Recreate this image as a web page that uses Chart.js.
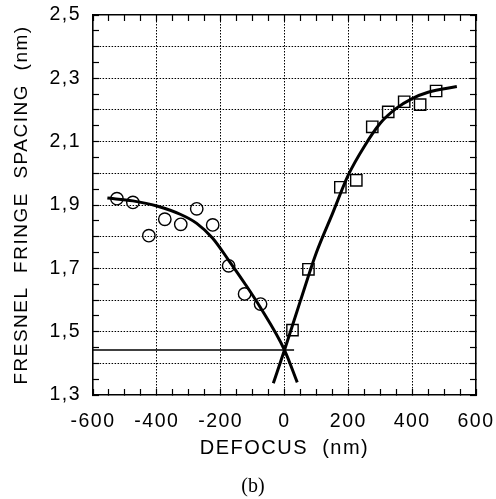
<!DOCTYPE html>
<html>
<head>
<meta charset="utf-8">
<script src="https://cdn.jsdelivr.net/npm/chart.js@4.4.1/dist/chart.umd.min.js"></script>
<style>html,body{margin:0;padding:0;background:#fff;overflow:hidden}</style>
</head>
<body>
<canvas id="c" width="496" height="499"></canvas>
<script>
// Measured points: circles (negative defocus) and squares (positive defocus)
const circleDefocus = [-525, -475, -425, -375, -325, -275, -225, -175, -125, -75];
const circleSpacing = [1.920, 1.908, 1.803, 1.855, 1.839, 1.888, 1.837, 1.708, 1.619, 1.587];
const squareDefocus = [25, 75, 175, 225, 275, 325, 375, 425, 475];
const squareSpacing = [1.505, 1.697, 1.956, 1.978, 2.147, 2.194, 2.226, 2.217, 2.260];

// Fitted curves
const leftFitDefocus = [-555, -475, -400, -325, -275, -225, -176, -125, -76, 0, 40];
const leftFitSpacing = [1.922, 1.913, 1.897, 1.870, 1.842, 1.795, 1.727, 1.653, 1.577, 1.442, 1.340];
const rightFitDefocus = [-35, 0, 50, 100, 150, 200, 250, 300, 350, 400, 450, 540];
const rightFitSpacing = [1.337, 1.442, 1.598, 1.750, 1.872, 1.995, 2.085, 2.158, 2.205, 2.236, 2.256, 2.274];

// Horizontal reference line at the crossing
const crossLineDefocus = [-600, 30];
const crossLineSpacing = [1.442, 1.442];

// Axis ticks and labels
const xTickValues = [-600, -400, -200, 0, 200, 400, 600];
const xTickLabels = ['-600', '-400', '-200', '0', '200', '400', '600'];
const yTickValues = [1.3, 1.5, 1.7, 1.9, 2.1, 2.3, 2.5];
const yTickLabels = ['1,3', '1,5', '1,7', '1,9', '2,1', '2,3', '2,5'];
const xGridValues = [-400, -200, 0, 200, 400];
const yGridValues = [1.4, 1.5, 1.6, 1.7, 1.8, 1.9, 2.0, 2.1, 2.2, 2.3, 2.4];
const xTitle = 'DEFOCUS  (nm)';
const yTitle = 'FRESNEL  FRINGE  SPACING  (nm)';
const captionText = '(b)';

const pts = (xs, ys) => xs.map((x, i) => ({x: x, y: ys[i]}));
const near = (v, arr, tol) => arr.some(a => Math.abs(a - v) < tol);
const labelFor = (v, vals, labels, tol) => {
  const i = vals.findIndex(a => Math.abs(a - v) < tol);
  return i >= 0 ? labels[i] : '';
};
const noPad = s => { s.paddingTop = 0; s.paddingBottom = 0; s.paddingLeft = 0; s.paddingRight = 0; };

const FONT = '"Liberation Sans", Arial, Helvetica, sans-serif';
const BLACK = '#000';
const NONE = 'rgba(0,0,0,0)';

const spacingPlugin = {
  id: 'spacing',
  beforeUpdate(chart) { chart.ctx.letterSpacing = '1.5px'; },
  beforeDraw(chart) { chart.ctx.letterSpacing = '1.5px'; },
  afterDraw(chart) {
    const ctx = chart.ctx;
    ctx.save();
    ctx.letterSpacing = '0px';
    ctx.font = '20px "Liberation Serif", "Times New Roman", serif';
    ctx.fillStyle = BLACK;
    ctx.textAlign = 'center';
    ctx.textBaseline = 'middle';
    ctx.fillText(captionText, 253, 487);
    ctx.restore();
  }
};

const lineDs = (xs, ys, w) => ({
  data: pts(xs, ys), showLine: true, borderColor: BLACK, borderWidth: w,
  pointRadius: 0, pointHoverRadius: 0, fill: false,
  cubicInterpolationMode: 'monotone'
});

new Chart(document.getElementById('c'), {
  type: 'scatter',
  data: {
    datasets: [
      lineDs(leftFitDefocus, leftFitSpacing, 3),
      lineDs(rightFitDefocus, rightFitSpacing, 3),
      Object.assign(lineDs(crossLineDefocus, crossLineSpacing, 1.5), {cubicInterpolationMode: 'default', tension: 0}),
      {
        data: pts(circleDefocus, circleSpacing), pointStyle: 'circle', pointRadius: 6.2,
        borderColor: BLACK, backgroundColor: NONE, borderWidth: 1.4, showLine: false
      },
      {
        data: pts(squareDefocus, squareSpacing), pointStyle: 'rect', pointRadius: 8,
        borderColor: BLACK, backgroundColor: NONE, borderWidth: 1.4, showLine: false
      }
    ]
  },
  options: {
    responsive: false,
    devicePixelRatio: 1,
    animation: false,
    layout: {padding: {top: 15, right: 20, left: 0, bottom: 0}},
    plugins: {legend: {display: false}, tooltip: {enabled: false}},
    scales: {
      x: {
        type: 'linear', position: 'bottom', min: -600, max: 600,
        afterFit: s => { s.height = 104; noPad(s); },
        ticks: {
          stepSize: 50, maxTicksLimit: 100, autoSkip: false, maxRotation: 0, minRotation: 0,
          padding: 21, color: BLACK, font: {family: FONT, size: 19.5},
          callback: v => labelFor(v, xTickValues, xTickLabels, 1e-6)
        },
        grid: {
          drawTicks: true, tickLength: -6, tickColor: BLACK, tickWidth: 1.2, lineWidth: 1,
          color: c => (c.tick && near(c.tick.value, xGridValues, 1e-6)) ? BLACK : NONE
        },
        border: {display: true, color: BLACK, width: 1.6, dash: [1.5, 1.5]},
        title: {display: true, text: xTitle, color: BLACK, font: {family: FONT, size: 20}, padding: {top: 0, bottom: 39}}
      },
      y: {
        type: 'linear', position: 'left', min: 1.3, max: 2.5,
        afterFit: s => { s.width = 93; noPad(s); },
        ticks: {
          stepSize: 0.05, maxTicksLimit: 100, autoSkip: false,
          padding: 18, color: BLACK, font: {family: FONT, size: 19.5},
          callback: v => labelFor(v, yTickValues, yTickLabels, 1e-4)
        },
        grid: {
          drawTicks: true, tickLength: -6, tickColor: BLACK, tickWidth: 1.2, lineWidth: 1,
          color: c => (c.tick && near(c.tick.value, yGridValues, 1e-4)) ? BLACK : NONE
        },
        border: {display: true, color: BLACK, width: 1.6, dash: [1.5, 1.5]},
        title: {display: true, text: yTitle, color: BLACK, font: {family: FONT, size: 19}, padding: {top: 10, bottom: 0}}
      },
      x2: {
        type: 'linear', position: 'top', min: -600, max: 600,
        afterFit: s => { s.height = 0; noPad(s); },
        ticks: {display: false, stepSize: 50, maxTicksLimit: 100, autoSkip: false},
        grid: {drawOnChartArea: false, drawTicks: true, tickLength: -6, tickColor: BLACK, tickWidth: 1.2},
        border: {display: true, color: BLACK, width: 1.6}
      },
      y2: {
        type: 'linear', position: 'right', min: 1.3, max: 2.5,
        afterFit: s => { s.width = 0; noPad(s); },
        ticks: {display: false, stepSize: 0.05, maxTicksLimit: 100, autoSkip: false},
        grid: {drawOnChartArea: false, drawTicks: true, tickLength: -6, tickColor: BLACK, tickWidth: 1.2},
        border: {display: true, color: BLACK, width: 1.6}
      }
    }
  },
  plugins: [spacingPlugin]
});
</script>
</body>
</html>
